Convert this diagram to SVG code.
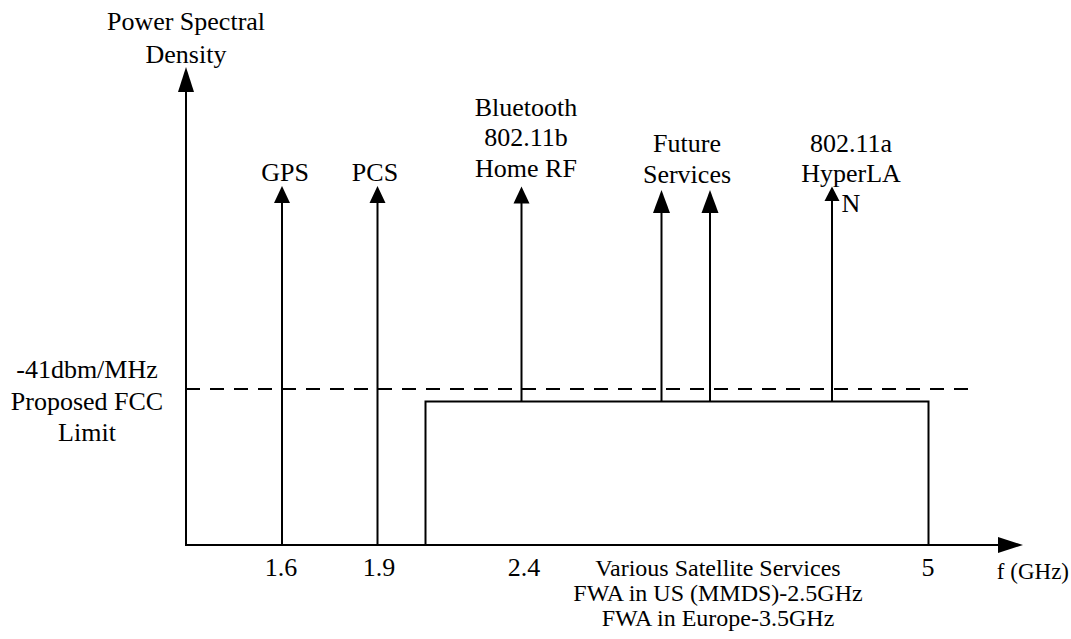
<svg xmlns="http://www.w3.org/2000/svg" width="1071" height="639" viewBox="0 0 1071 639">
  <style>
    text { font-family: "Liberation Serif", "Times New Roman", serif; font-size: 26px; fill: #000; text-anchor: middle; }
    text.small { font-size: 24px; }
    text.unit { font-size: 23px; text-anchor: end; }
    .line { stroke: #000; stroke-width: 2; fill: none; }
    .dash { stroke: #000; stroke-width: 2; fill: none; stroke-dasharray: 14 10; }
    .head { fill: #000; stroke: none; }
  </style>
  <rect x="0" y="0" width="1071" height="639" fill="#fff"/>

  <!-- axes -->
  <g id="axes">
    <line class="line" x1="186" y1="545" x2="186" y2="90"/>
    <polygon class="head" points="186,67 178,92 194,92"/>
    <line class="line" x1="185" y1="545" x2="1000" y2="545"/>
    <polygon class="head" points="1023,545 998,537 998,553"/>
    <text x="186" y="30">Power Spectral</text>
    <text x="186" y="63">Density</text>
    <text class="unit" x="1069" y="579">f (GHz)</text>
  </g>

  <!-- FCC limit -->
  <g id="fcc-limit">
    <line class="dash" x1="186" y1="389" x2="977" y2="389"/>
    <text x="87" y="378">-41dbm/MHz</text>
    <text x="87" y="410">Proposed FCC</text>
    <text x="87" y="441">Limit</text>
  </g>

  <!-- band of satellite / FWA services -->
  <g id="satellite-band">
    <polyline class="line" points="425.5,545 425.5,401.5 928.5,401.5 928.5,545"/>
    <text class="small" x="718" y="576">Various Satellite Services</text>
    <text class="small" x="718" y="601">FWA in US (MMDS)-2.5GHz</text>
    <text class="small" x="718" y="626">FWA in Europe-3.5GHz</text>
  </g>

  <!-- frequency tick labels -->
  <g id="ticks">
    <text x="281" y="576">1.6</text>
    <text x="379" y="576">1.9</text>
    <text x="524" y="576">2.4</text>
    <text x="928" y="576">5</text>
  </g>

  <!-- service labels -->
  <g id="gps"><text x="285" y="181">GPS</text></g>
  <g id="pcs"><text x="375" y="181">PCS</text></g>
  <g id="bluetooth">
    <text x="526" y="116">Bluetooth</text>
    <text x="526" y="146">802.11b</text>
    <text x="526" y="177">Home RF</text>
  </g>
  <g id="future">
    <text x="687" y="152">Future</text>
    <text x="687" y="183">Services</text>
  </g>
  <g id="wlan-a">
    <text x="851" y="152">802.11a</text>
    <text x="851" y="182">HyperLA</text>
    <text x="851" y="212">N</text>
  </g>

  <!-- service arrows -->
  <g id="connectors">
    <line class="line" x1="282" y1="545" x2="282" y2="200"/>
    <polygon class="head" points="282,186 274,203 290,203"/>
    <line class="line" x1="377.5" y1="545" x2="377.5" y2="200"/>
    <polygon class="head" points="377.5,186 369.5,203 385.5,203"/>
    <line class="line" x1="521.5" y1="402" x2="521.5" y2="200"/>
    <polygon class="head" points="521.5,186.5 513.5,203.5 529.5,203.5"/>
    <line class="line" x1="661.5" y1="402" x2="661.5" y2="210"/>
    <polygon class="head" points="661.5,190 653,213 670,213"/>
    <line class="line" x1="710" y1="402" x2="710" y2="210"/>
    <polygon class="head" points="710,190 701.5,213 718.5,213"/>
    <line class="line" x1="832" y1="402" x2="832" y2="198"/>
    <polygon class="head" points="832,186.5 824.5,201 839.5,201"/>
  </g>
</svg>
